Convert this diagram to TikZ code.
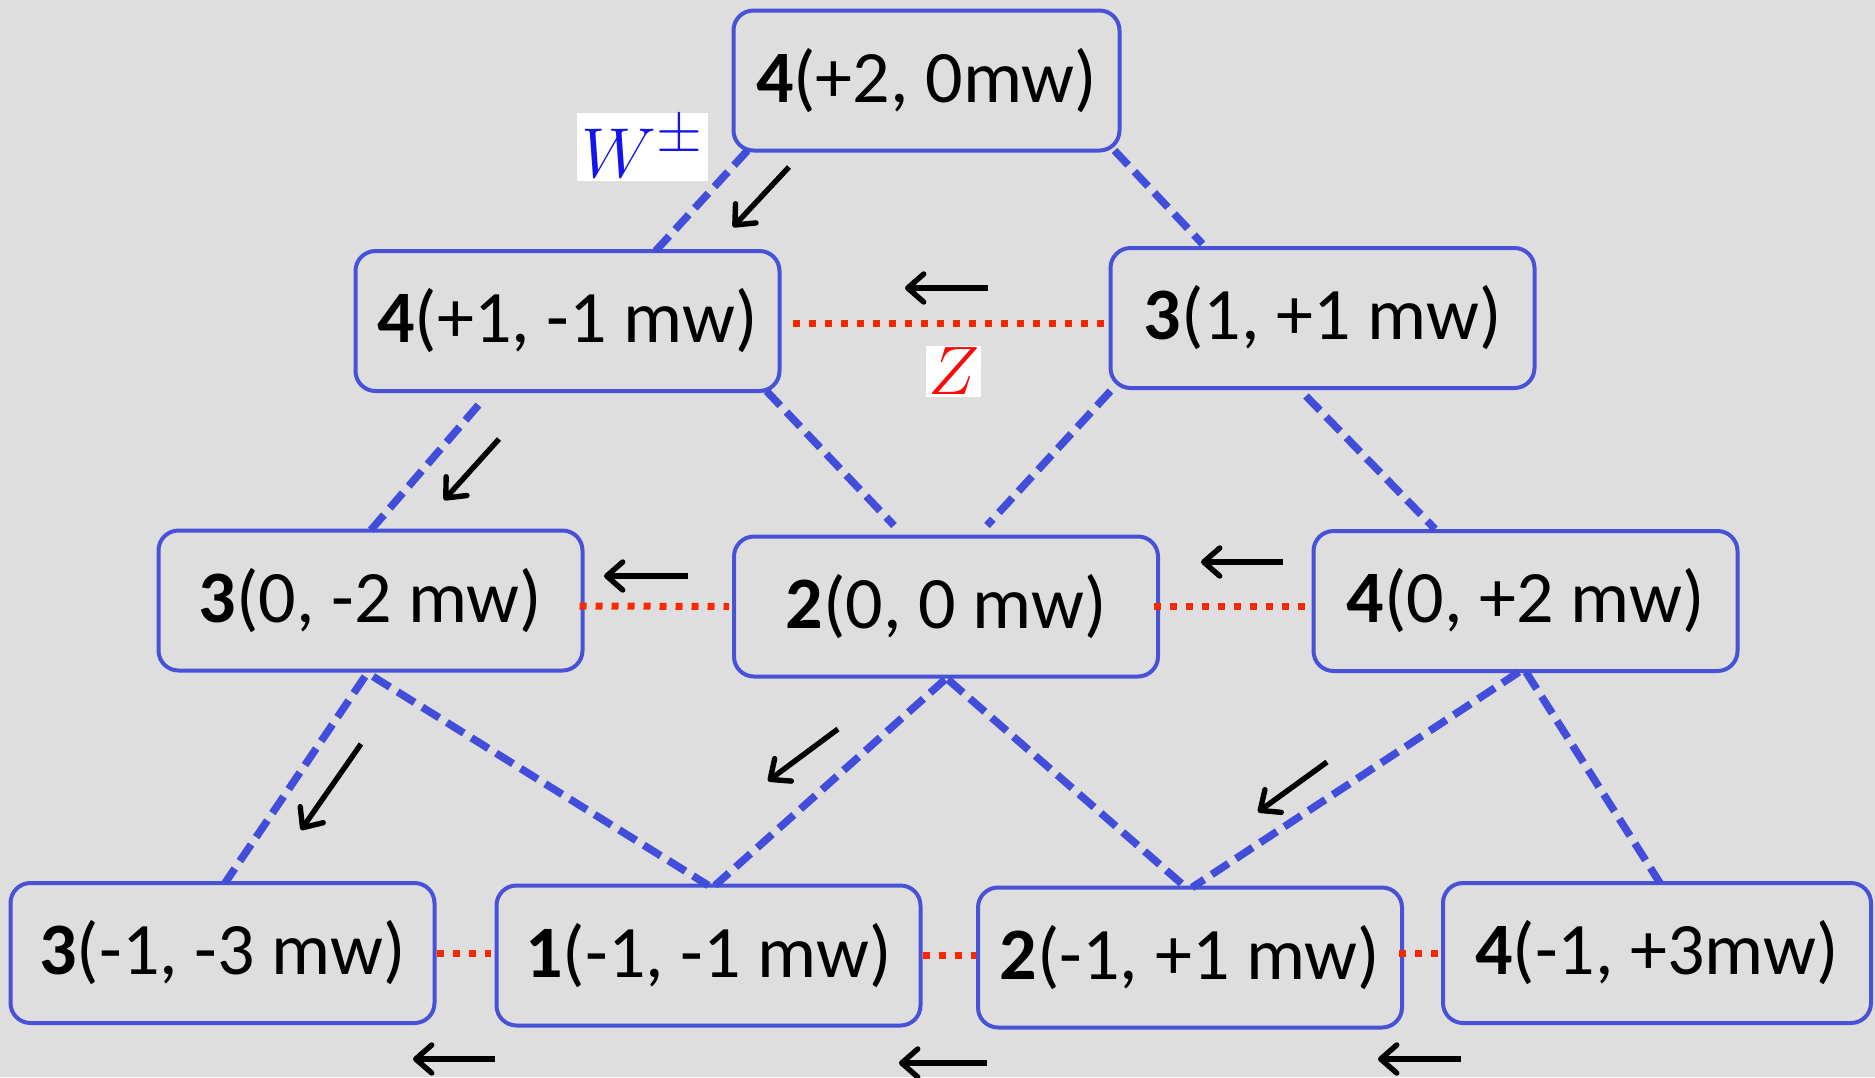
\documentclass[tikz,border=0pt]{standalone}
\usepackage{fontspec}
\setmainfont{Carlito}
\usetikzlibrary{calc,arrows.meta}
\definecolor{bg}{RGB}{222,222,222}
\definecolor{bbox}{RGB}{72,82,214}
\definecolor{bdash}{RGB}{66,77,218}
\definecolor{rdot}{RGB}{248,40,5}
\definecolor{wblue}{RGB}{20,20,235}
\definecolor{zred}{RGB}{250,10,10}
\begin{document}
\begin{tikzpicture}[x=0.5pt,y=-0.5pt,
  state/.style={draw=bbox, line width=2pt, rounded corners=10pt, inner sep=0pt, outer sep=0pt,
    minimum width=212pt, minimum height=70pt, font=\fontsize{37}{44}\selectfont},
  wl/.style={draw=bdash, line width=3.8pt, dash pattern=on 10pt off 4.5pt},
  zl/.style={draw=rdot, line width=3.5pt, dash pattern=on 3.5pt off 4.5pt},
  mv/.style={draw=black, line width=2.7pt, -{Straight Barb[length=8pt,width=14pt,round]}},
  lbl/.style={fill=white, inner sep=1.5pt, outer sep=0pt, font=\Huge}
]
\fill[bg] (0,0) rectangle (1875,1077);
\useasboundingbox (0,0) rectangle (1875,1077);

% nodes
\node[state, minimum width=193pt] (T) at (926.5,80.5) {\textbf{4}(+2, 0mw)};
\node[state] (A) at (567.5,321) {\textbf{4}(+1, -1 mw)};
\node[state] (B) at (1322.5,318) {\textbf{3}(1, +1 mw)};
\node[state] (C) at (370.5,600.5) {\textbf{3}(0, -2 mw)};
\node[state] (D) at (946,606.5) {\textbf{2}(0, 0 mw)};
\node[state] (E) at (1525.5,601) {\textbf{4}(0, +2 mw)};
\node[state] (F) at (222.5,953) {\textbf{3}(-1, -3 mw)};
\node[state] (G) at (708.5,955.5) {\textbf{1}(-1, -1 mw)};
\node[state] (H) at (1190,957.5) {\textbf{2}(-1, +1 mw)};
\node[state, minimum width=214pt] (I) at (1657,953) {\textbf{4}(-1, +3mw)};

% W lines (blue dashed)
\draw[wl] ($(T.south west)+(14,0)$) -- ($(A.north)+(88,0)$);
\draw[wl] ($(T.south east)+(-5,0)$) -- ($(B.north)+(-120,-4)$);
\draw[wl] ($(A.south)+(-89,14)$) -- (C.north);
\draw[wl] ($(A.south east)+(-13,0)$) -- ($(D.north)+(-52,-11)$);
\draw[wl] ($(B.south west)+(0,3)$) -- ($(D.north)+(41,-11)$);
\draw[wl] ($(B.south)+(-16.5,8)$) -- ($(E.north)+(-90.5,-2)$);
\draw[wl] ($(C.south)+(-5.5,6)$) -- ($(F.north)+(2.5,0)$);
\draw[wl] ($(C.south)+(2.5,6)$) -- (G.north);
\draw[wl] ($(D.south)+(-1,3)$) -- ($(G.north)+(6.5,0)$);
\draw[wl] ($(D.south)+(2,3)$) -- ($(H.north)+(-4,0)$);
\draw[wl] ($(E.south)+(-6.5,1)$) -- ($(H.north)+(2,0)$);
\draw[wl] ($(E.south)+(0.5,1)$) -- ($(I.north)+(3,0)$);

% Z lines (red dotted)
\draw[zl] ($(A.east)+(13,2.5)$) -- ($(B.west)+(-6,5.5)$);
\draw[zl] ($(C.east)+(-3,5.5)$) -- ($(D.west)+(-5,0)$);
\draw[zl] ($(D.east)+(-4,0)$) -- ($(E.west)+(-6,5.5)$);
\draw[zl] ($(F.east)+(2,0)$) -- ($(G.west)+(-6,-2.5)$);
\draw[zl] ($(G.east)+(2,0)$) -- ($(H.west)+(-2,-2)$);
\draw[zl] ($(H.east)+(-3,-4.5)$) -- ($(I.west)+(2,0)$);

% labels
\node[lbl, text=wblue, scale=1.42] (Wlab) at (642.5,147) {$W^{\pm}$};
\node[lbl, text=zred, scale=1.38, inner sep=0.8pt] (Zlab) at (953.5,371.5) {$Z$};

% black arrows
\draw[mv] (789,167) -- (733,227);
\draw[mv] (988,288) -- (905,288);
\draw[mv] (499,439) -- (444,500);
\draw[mv] (688,576) -- (604,576);
\draw[mv] (1283,562) -- (1201,562);
\draw[mv] (361,744) -- (301,830);
\draw[mv] (838,729) -- (768,781);
\draw[mv] (1327,762) -- (1258,812);
\draw[mv] (495,1059) -- (413,1059);
\draw[mv] (987,1063) -- (899,1063);
\draw[mv] (1461,1059) -- (1378,1059);
\end{tikzpicture}
\end{document}
